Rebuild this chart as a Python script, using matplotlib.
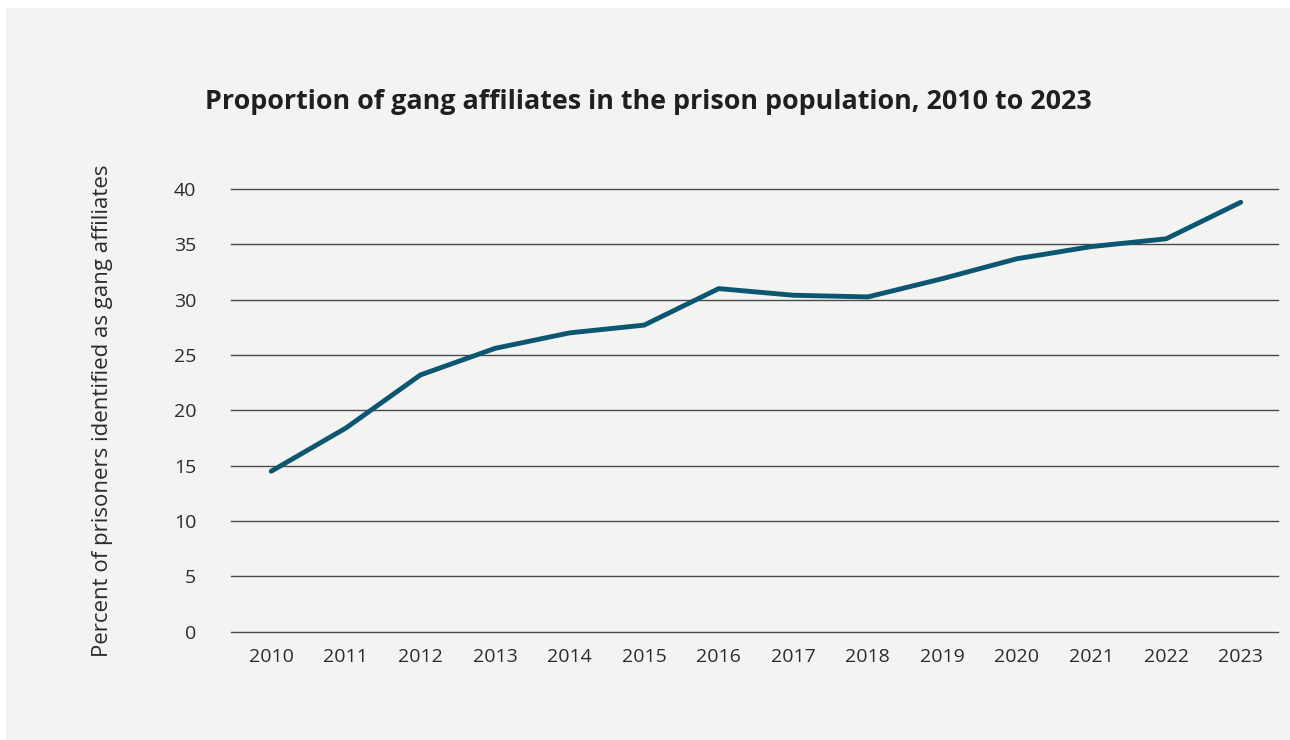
import matplotlib.pyplot as plt
from matplotlib.patches import Rectangle

years = [2010, 2011, 2012, 2013, 2014, 2015, 2016, 2017, 2018, 2019, 2020, 2021, 2022, 2023]
pct_gang = [14.5, 18.4, 23.2, 25.6, 27.0, 27.7, 31.0, 30.4, 30.25, 31.9, 33.7, 34.8, 35.5, 38.8]
y_ticks = [0, 5, 10, 15, 20, 25, 30, 35, 40]

plt.rcParams['font.family'] = ['Open Sans', 'DejaVu Sans']

W, H = 1290, 740
fig = plt.figure(figsize=(W / 100, H / 100), dpi=100, facecolor='white')

# grey panel behind everything
fig.patches.append(Rectangle((6 / W, 0), 1 - 6 / W, 1 - 8 / H, transform=fig.transFigure,
                             facecolor='#f3f3f2', edgecolor='none', zorder=-10))

ax = fig.add_axes([231 / W, 1 - 631.7 / H, (1278 - 231) / W, (631.7 - 189) / H])
ax.set_facecolor('none')
ax.set_zorder(5)

ax.plot(years, pct_gang, color='#0b5670', linewidth=3.5, solid_capstyle='round', zorder=3)

ax.set_xlim(years[0] - 0.54, years[-1] + 0.5)
ax.set_ylim(0, 40)
ax.set_xticks(years)
ax.set_xticklabels([str(y) for y in years])
ax.set_yticks(y_ticks)

ax.yaxis.grid(True, color='#4a4a4a', linewidth=1.0)
for gl in ax.get_ygridlines():
    gl.set_clip_on(False)
ax.set_axisbelow(True)
for s in ax.spines.values():
    s.set_visible(False)
ax.tick_params(axis='both', length=0, labelsize=14, colors='#2b2b2b')
ax.tick_params(axis='y', pad=25)
ax.tick_params(axis='x', pad=12)

ax.set_ylabel('Percent of prisoners identified as gang affiliates', fontsize=16,
              color='#2b2b2b', labelpad=44)

fig.text(648 / W, 1 - 102 / H, 'Proportion of gang affiliates in the prison population, 2010 to 2023',
         ha='center', va='center', fontsize=19.4, fontweight='bold', color='#1f1f1f')

fig.savefig('out.png', dpi=100, facecolor=fig.get_facecolor())
